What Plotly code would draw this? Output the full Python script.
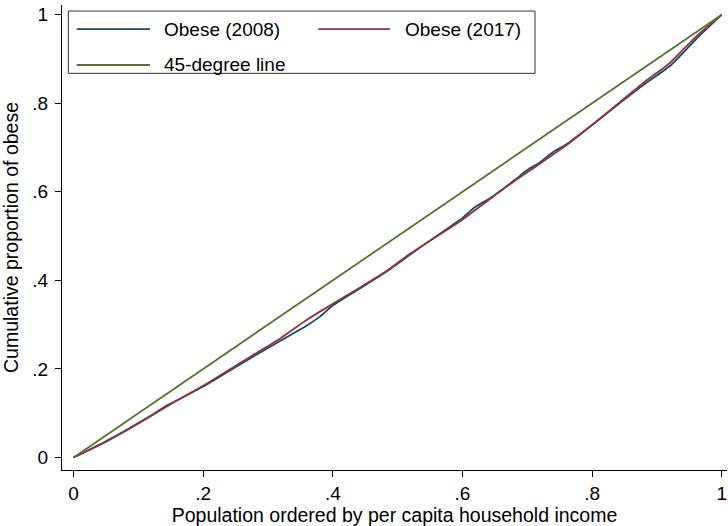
import plotly.graph_objects as go

# Concentration curves of obesity by per capita household income
pop_share_2008 = [0, .04, .08, .12, .14, .16, .20, .24, .28, .32, .36, .38, .40, .44, .48,
                  .52, .56, .60, .62, .64, .68, .70, .72, .74, .76, .80, .84, .88, .92, .96, 1.0]
obese_2008 = [0, .028, .060, .095, .114, .129, .160, .195, .230, .264, .298, .318, .343, .380, .417,
              .459, .500, .541, .566, .583, .626, .649, .667, .690, .707, .751, .797, .842, .884, .944, 1.0]

pop_share_2017 = [0, .04, .08, .12, .16, .20, .24, .28, .32, .36, .40, .44, .48, .52, .56,
                  .60, .64, .68, .72, .76, .80, .84, .88, .92, .96, 1.0]
obese_2017 = [0, .029, .061, .094, .129, .162, .198, .234, .270, .311, .347, .382, .418, .461, .499,
              .537, .581, .624, .664, .705, .751, .799, .847, .891, .950, 1.0]

equality_x = [0, 1]
equality_y = [0, 1]

tick_vals = [0, .2, .4, .6, .8, 1]
tick_text = ["0", ".2", ".4", ".6", ".8", "1"]

series_names = ["Obese (2008)", "Obese (2017)", "45-degree line"]
colors = ["#1a476f", "#90353b", "#55752f"]

FONT = "Liberation Sans, Arial, sans-serif"
LW = 1.8

fig = go.Figure()
fig.add_trace(go.Scatter(x=pop_share_2008, y=obese_2008, mode="lines", name=series_names[0],
                         line=dict(color=colors[0], width=LW, shape="spline", smoothing=0.6),
                         showlegend=False))
fig.add_trace(go.Scatter(x=pop_share_2017, y=obese_2017, mode="lines", name=series_names[1],
                         line=dict(color=colors[1], width=LW, shape="spline", smoothing=0.6),
                         showlegend=False))
fig.add_trace(go.Scatter(x=equality_x, y=equality_y, mode="lines", name=series_names[2],
                         line=dict(color=colors[2], width=LW), showlegend=False))

# Boxed key in the upper-left corner: two entries on the first row, one on the second
shapes = [dict(type="rect", xref="paper", yref="paper", x0=0.0095, x1=0.7113, y0=0.853, y1=0.987,
               line=dict(color="#333333", width=1), fillcolor="white", layer="above")]
annotations = []
key_rows = [(0.0221, 0.1323, 0.150, 0.948),
            (0.3854, 0.4932, 0.5132, 0.948),
            (0.0221, 0.1323, 0.150, 0.871)]
for (lx0, lx1, tx, ky), name, col in zip(key_rows, series_names, colors):
    shapes.append(dict(type="line", xref="paper", yref="paper", x0=lx0, x1=lx1, y0=ky, y1=ky,
                       line=dict(color=col, width=LW), layer="above"))
    annotations.append(dict(xref="paper", yref="paper", x=tx, y=ky, text=name, showarrow=False,
                            xanchor="left", yanchor="middle", font=dict(family=FONT, size=19, color="black")))

fig.update_layout(
    width=728, height=526,
    margin=dict(l=62, r=1, t=5, b=56),
    paper_bgcolor="white", plot_bgcolor="white",
    font=dict(family=FONT, size=18, color="black"),
    shapes=shapes, annotations=annotations,
    showlegend=False,
)
fig.update_xaxes(
    range=[-0.0179, 1.0082], tickvals=tick_vals, ticktext=tick_text,
    showgrid=False, zeroline=False, showline=True, linecolor="black", linewidth=1,
    ticks="outside", ticklen=6, tickcolor="black", tickwidth=1,
    tickfont=dict(size=19), ticklabelstandoff=0,
    title=dict(text="Population ordered by per capita household income", font=dict(size=19.5), standoff=0),
)
fig.update_yaxes(
    range=[-0.0284, 1.0219], tickvals=tick_vals, ticktext=tick_text,
    showgrid=False, zeroline=False, showline=True, linecolor="black", linewidth=1,
    ticks="outside", ticklen=6, tickcolor="black", tickwidth=1,
    tickfont=dict(size=19), ticklabelstandoff=3, tickangle=0,
    title=dict(text="Cumulative proportion of obese", font=dict(size=19.5), standoff=10),
)

fig.write_html("out.html")
